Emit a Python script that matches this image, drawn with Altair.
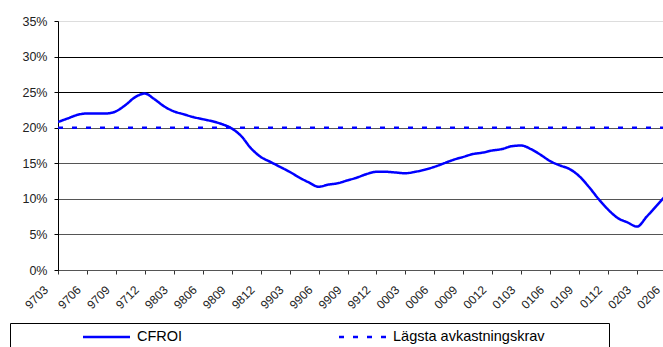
import altair as alt
import pandas as pd

# Quarterly tick labels (yymm)
tick_labels = ["9703", "9706", "9709", "9712", "9803", "9806", "9809", "9812",
               "9903", "9906", "9909", "9912", "0003", "0006", "0009", "0012",
               "0103", "0106", "0109", "0112", "0203", "0206"]

series_names = ["CFROI", "Lägsta avkastningskrav"]

# Monthly CFROI (%), 9703 .. 0206
cfroi = [20.8, 21.3, 21.8, 22.0, 22.0, 22.0, 22.3, 23.2, 24.3, 24.8,
         24.0, 23.0, 22.3, 21.9, 21.5, 21.2, 20.9, 20.5, 19.9, 18.8,
         17.1, 15.9, 15.2, 14.5, 13.8, 13.0, 12.3, 11.7, 12.0, 12.2,
         12.6, 13.0, 13.5, 13.8, 13.8, 13.7, 13.6, 13.8, 14.1, 14.5,
         15.0, 15.5, 15.9, 16.3, 16.5, 16.8, 17.0, 17.4, 17.5, 17.0,
         16.2, 15.3, 14.7, 14.2, 13.2, 11.7, 10.0, 8.5, 7.3, 6.7,
         6.1, 7.5, 9.0, 10.5]

# Minimum required return (%), monthly
krav = [20.0, 20.0, 20.0, 20.0, 20.0, 20.0, 20.0, 20.0, 20.0, 20.0,
        20.0, 20.0, 20.0, 20.0, 20.0, 20.0, 20.0, 20.0, 20.0, 20.0,
        20.0, 20.0, 20.0, 20.0, 20.0, 20.0, 20.0, 20.0, 20.0, 20.0,
        20.0, 20.0, 20.0, 20.0, 20.0, 20.0, 20.0, 20.0, 20.0, 20.0,
        20.0, 20.0, 20.0, 20.0, 20.0, 20.0, 20.0, 20.0, 20.0, 20.0,
        20.0, 20.0, 20.0, 20.0, 20.0, 20.0, 20.0, 20.0, 20.0, 20.0,
        20.0, 20.0, 20.0, 20.0]

y_ticks = [0, 5, 10, 15, 20, 25, 30, 35]

month_idx = list(range(len(cfroi)))
df = pd.DataFrame({
    "idx": month_idx + month_idx,
    "value": cfroi + krav,
    "series": [series_names[0]] * len(cfroi) + [series_names[1]] * len(krav),
})

label_expr = "[" + ",".join(f"'{t}'" for t in tick_labels) + "][round(datum.value/3)]"

legend = alt.Legend(
    title=" ", titleOrient="right", titlePadding=59, titleFontSize=1,
    orient="none", legendX=-48, legendY=302, direction="horizontal",
    strokeColor="black", fillColor="white", padding=5, cornerRadius=0,
    symbolType="stroke", symbolSize=2209, symbolStrokeWidth=2.5,
    clipHeight=18, symbolOffset=66.5, labelOffset=5.5, columnPadding=88,
    labelFont="Liberation Sans", labelFontSize=14.5, labelColor="black",
    labelLimit=400,
)

line = alt.Chart(df).mark_line(clip=True, interpolate="monotone").encode(
    x=alt.X("idx:Q",
            scale=alt.Scale(domain=[0, 63], nice=False, zero=False),
            axis=alt.Axis(values=list(range(0, 64, 3)), labelExpr=label_expr,
                          title=None, grid=False, labelAngle=-45,
                          labelOffset={"condition": {"test": "datum.value === 0", "value": -16},
                                       "value": -12},
                          labelPadding=10, tickSize=4,
                          tickColor="#333", domainColor="#555",
                          labelFont="Liberation Sans", labelFontSize=12,
                          labelColor="#222", labelOverlap=False)),
    y=alt.Y("value:Q",
            scale=alt.Scale(domain=[0, 35], nice=False),
            axis=alt.Axis(values=y_ticks, labelExpr="datum.value + '%'",
                          title=None, grid=True,
                          gridColor={"condition": [
                              {"test": "datum.value === 35", "value": "#dddddd"},
                              {"test": "datum.value >= 25", "value": "#000000"}],
                              "value": "#555555"},
                          gridWidth=1, domainColor="black", tickColor="black",
                          tickSize=4, labelPadding=7,
                          labelFont="Liberation Sans", labelFontSize=12.5,
                          labelColor="#222")),
    color=alt.Color("series:N",
                    scale=alt.Scale(domain=series_names, range=["#0000FF", "#0000FF"]),
                    legend=legend),
    strokeDash=alt.StrokeDash("series:N",
                              scale=alt.Scale(domain=series_names, range=[[1, 0], [5, 9]]),
                              legend=legend),
    strokeWidth=alt.value(2.5),
)

chart = alt.layer(line).properties(
    width=608, height=249,
    padding={"left": 58, "top": 21, "right": -3, "bottom": 77},
    autosize=alt.AutoSizeParams(type="none"),
    background="white",
).configure_view(stroke=None)

chart.save("out.html", embed_options={"renderer": "svg", "actions": False})
